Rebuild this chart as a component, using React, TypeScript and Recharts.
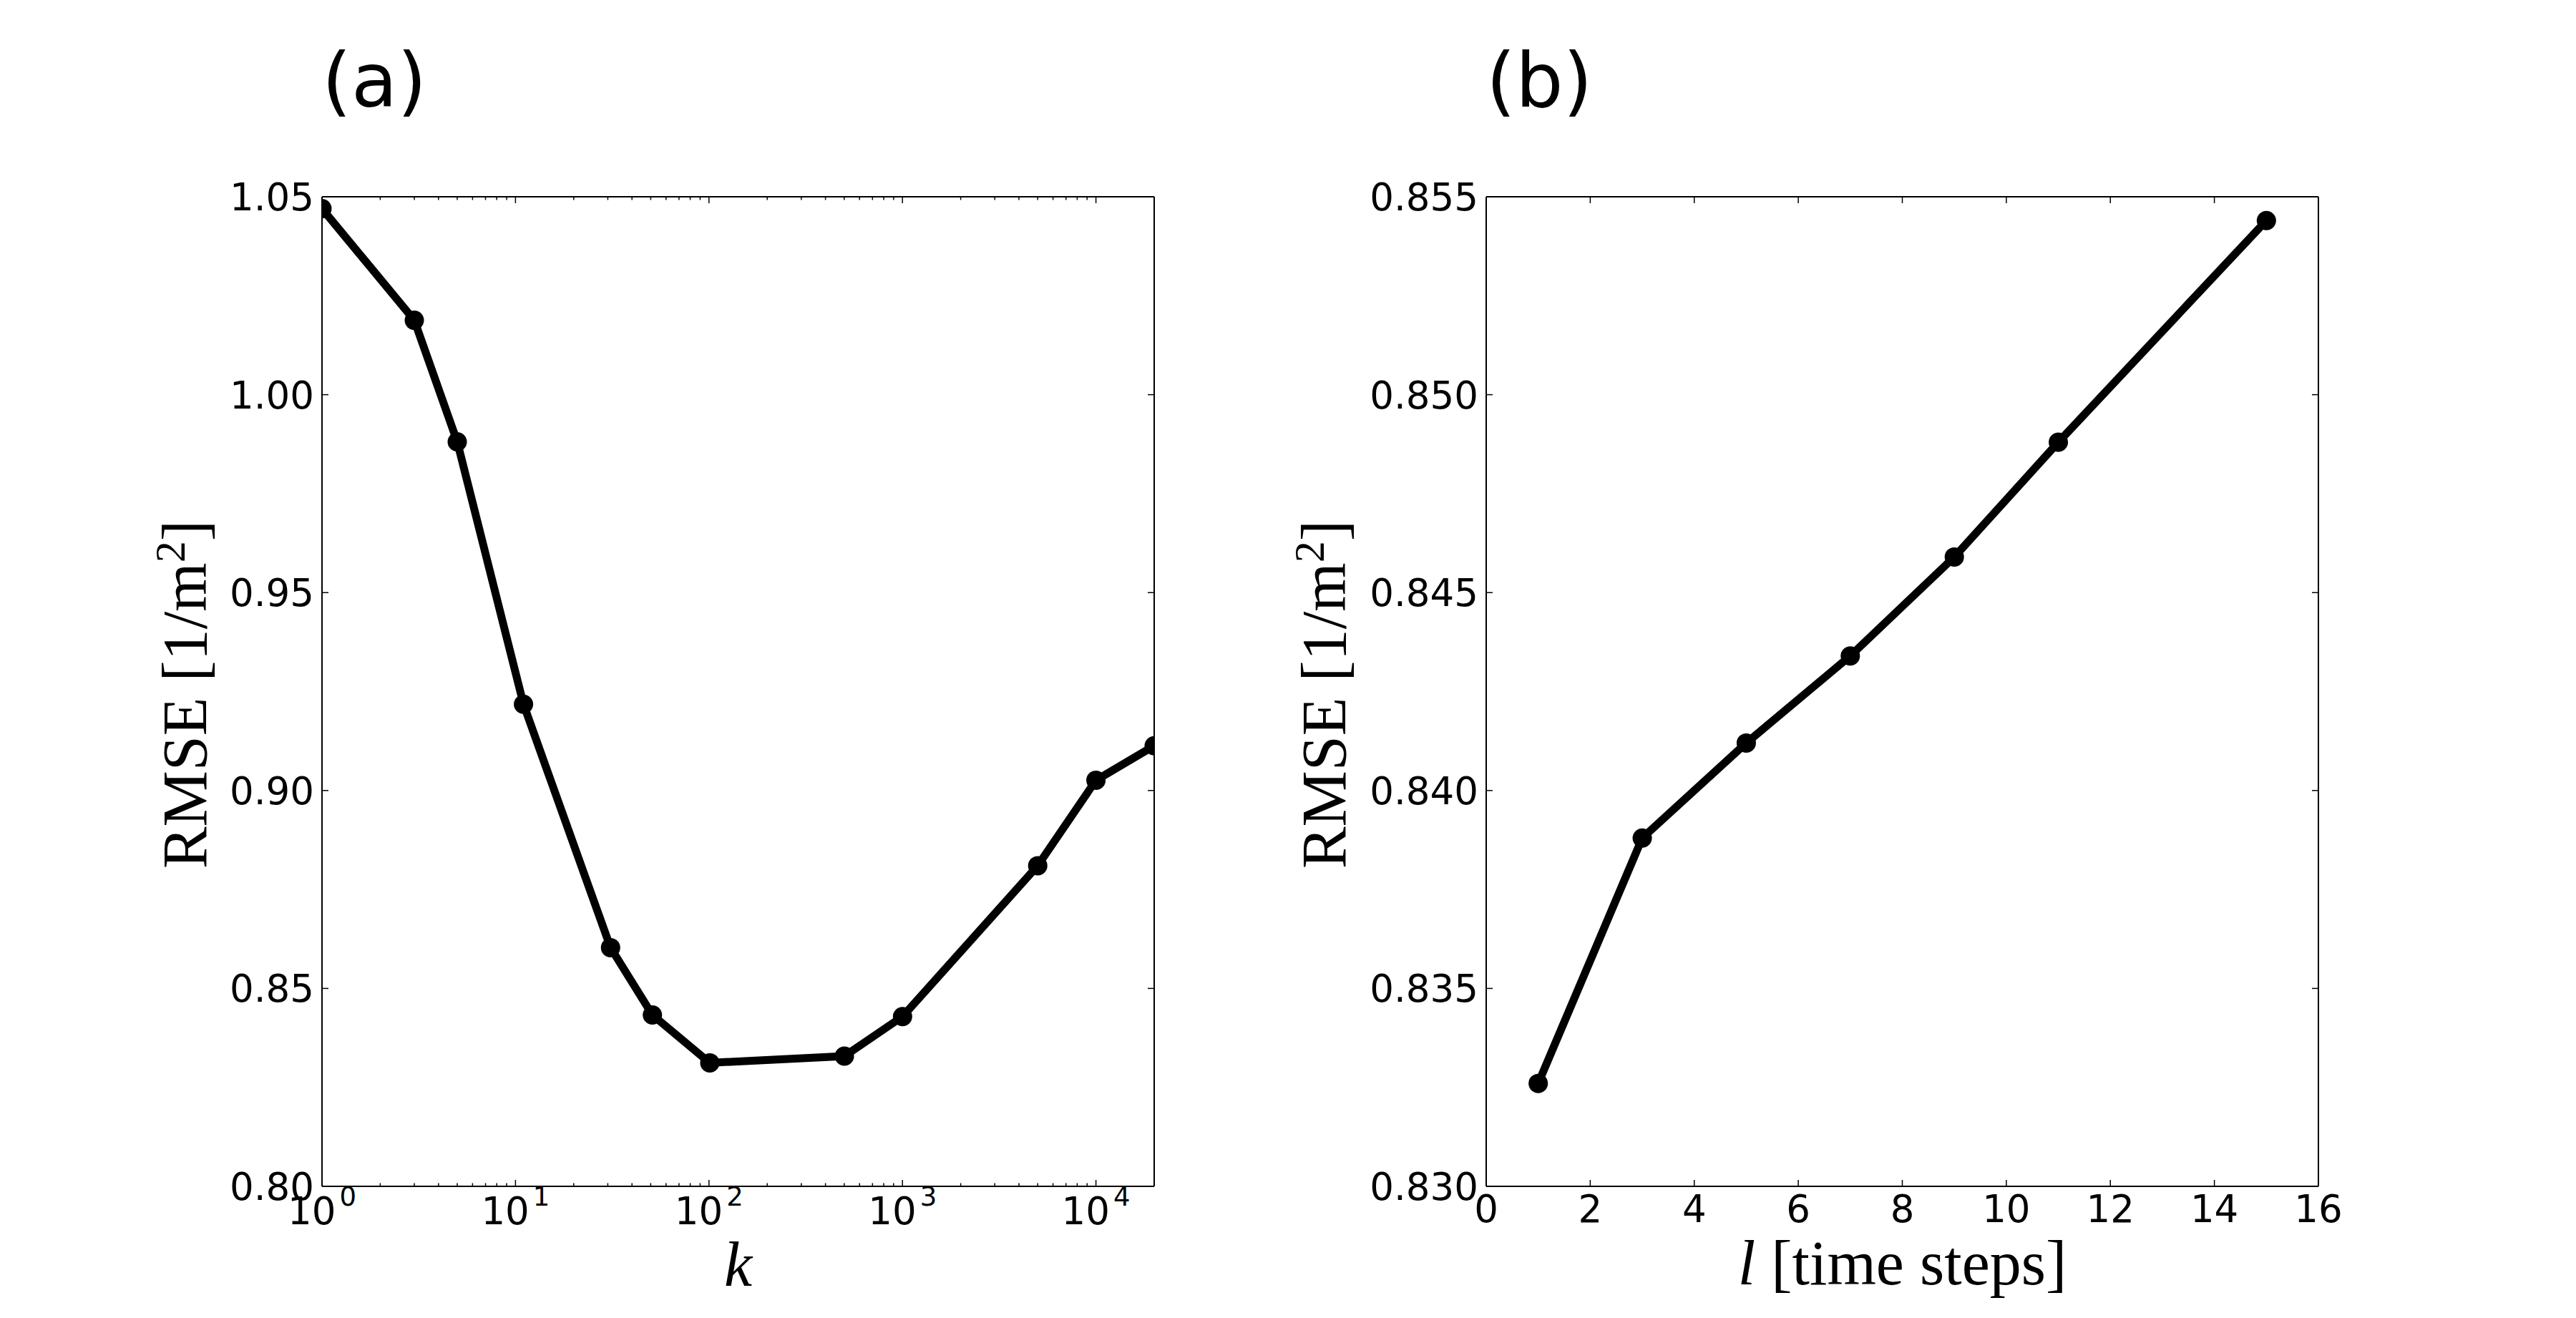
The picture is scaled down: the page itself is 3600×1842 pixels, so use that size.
import React from 'react';
import { Label, Line, LineChart, ReferenceLine, XAxis, YAxis } from 'recharts';

// panel (a): RMSE against k (log axis)
const kValues = [1, 3, 5, 11, 31, 51, 101, 501, 1001, 5001, 10001, 20000];
const rmseByK = [1.047, 1.0188, 0.9881, 0.9218, 0.8603, 0.8433, 0.8312, 0.8329, 0.8429, 0.881, 0.9026, 0.9113];

// panel (b): RMSE against l
const lValues = [1, 3, 5, 7, 9, 11, 15];
const rmseByL = [0.8326, 0.8388, 0.8412, 0.8434, 0.8459, 0.8488, 0.8544];

// tick values
const kDomain = [1, 20000];
const kMajorTicks = [1, 10, 100, 1000, 10000];
const kMinorSteps = [2, 3, 4, 5, 6, 7, 8, 9];
const kRmseTicks = [0.8, 0.85, 0.9, 0.95, 1.0, 1.05];
const lTicks = [0, 2, 4, 6, 8, 10, 12, 14, 16];
const lRmseTicks = [0.83, 0.835, 0.84, 0.845, 0.85, 0.855];

const kTicks = [
  ...kMajorTicks,
  ...kMajorTicks.flatMap((d) => kMinorSteps.map((s) => s * d)).filter((v) => v <= kDomain[1]),
].sort((a, b) => a - b);

const kData = kValues.map((k, i) => ({ k, rmse: rmseByK[i] }));
const lData = lValues.map((l, i) => ({ l, rmse: rmseByL[i] }));

// layout (px)
const CHART_W = 1800;
const CHART_H = 1842;
const PLOT_TOP = 275;
const PLOT_W = 1163;
const PLOT_H = 1383;
const MAJOR_TICK = 9;
const MINOR_TICK = 4.5;
const RIGHT_CHART_LEFT = 1650; // plot (b) starts at x = 2077

const TICK_FONT = '"DejaVu Sans", sans-serif';
const TICK_SIZE = 53;
const LABEL_FONT = '"Liberation Serif", "Times New Roman", serif';
const LABEL_SIZE = 88;

const tickStroke = { stroke: '#000', strokeWidth: 1.5 };

function LogXTick(props: any) {
  const { x, y, payload } = props;
  const v = payload.value as number;
  const exp = Math.log10(v);
  const major = Math.abs(exp - Math.round(exp)) < 1e-9;
  const len = major ? MAJOR_TICK : MINOR_TICK;
  return (
    <g>
      <line x1={x} y1={y} x2={x} y2={y - len} {...tickStroke} />
      <line x1={x} y1={y - PLOT_H} x2={x} y2={y - PLOT_H + len} {...tickStroke} />
      {major && (
        <text x={x} y={y + 53} textAnchor="middle" fontFamily={TICK_FONT} fontSize={TICK_SIZE} fill="#000">
          10
          <tspan dx={5} dy={-26} fontSize={37}>
            {Math.round(exp)}
          </tspan>
        </text>
      )}
    </g>
  );
}

function LinearXTick(props: any) {
  const { x, y, payload } = props;
  return (
    <g>
      <line x1={x} y1={y} x2={x} y2={y - MAJOR_TICK} {...tickStroke} />
      <line x1={x} y1={y - PLOT_H} x2={x} y2={y - PLOT_H + MAJOR_TICK} {...tickStroke} />
      <text x={x} y={y + 50} textAnchor="middle" fontFamily={TICK_FONT} fontSize={TICK_SIZE} fill="#000">
        {payload.value}
      </text>
    </g>
  );
}

function makeYTick(decimals: number) {
  return function YTick(props: any) {
    const { x, y, payload } = props;
    return (
      <g>
        <line x1={x} y1={y} x2={x + MAJOR_TICK} y2={y} {...tickStroke} />
        <line x1={x + PLOT_W} y1={y} x2={x + PLOT_W - MAJOR_TICK} y2={y} {...tickStroke} />
        <text x={x - 11} y={y + 19} textAnchor="end" fontFamily={TICK_FONT} fontSize={TICK_SIZE} fill="#000">
          {(payload.value as number).toFixed(decimals)}
        </text>
      </g>
    );
  };
}

const kYTick = makeYTick(2);
const lYTick = makeYTick(3);

// y label: RMSE [1/m^2], rotated; gap = distance from plot edge to baseline
function makeYLabel(gap: number) {
  return function YLabel(props: any) {
    const vb = props.viewBox || {};
    const bx = vb.x + vb.width - gap;
    const cy = vb.y + vb.height / 2 + 4;
    return (
      <text
        x={bx}
        y={cy}
        transform={`rotate(-90 ${bx} ${cy})`}
        textAnchor="middle"
        fontFamily={LABEL_FONT}
        fontSize={LABEL_SIZE}
        fill="#000"
      >
        RMSE [1/m
        <tspan dy={-30} fontSize={60}>
          2
        </tspan>
        <tspan dy={30}>]</tspan>
      </text>
    );
  };
}

function KLabel(props: any) {
  const vb = props.viewBox || {};
  return (
    <text
      x={vb.x + vb.width / 2}
      y={vb.y + 139}
      textAnchor="middle"
      fontFamily={LABEL_FONT}
      fontSize={LABEL_SIZE}
      fontStyle="italic"
      fill="#000"
    >
      k
    </text>
  );
}

function LLabel(props: any) {
  const vb = props.viewBox || {};
  return (
    <text x={vb.x + vb.width / 2} y={vb.y + 137} textAnchor="middle" fontFamily={LABEL_FONT} fontSize={LABEL_SIZE} fill="#000">
      <tspan fontStyle="italic">l</tspan> [time steps]
    </text>
  );
}

const frame = { stroke: '#000', strokeWidth: 2 };
const dotStyle = { r: 13.5, fill: '#000', stroke: '#000', strokeWidth: 0 };

export default function App() {
  return (
    <div style={{ position: 'absolute', left: 0, top: 0, width: 3600, height: 1842, background: '#fff' }}>
      {/* (a) */}
      <div style={{ position: 'absolute', left: 0, top: 0 }}>
        <LineChart
          width={CHART_W}
          height={CHART_H}
          data={kData}
          margin={{ top: PLOT_TOP, right: CHART_W - 450 - PLOT_W, bottom: 0, left: 0 }}
        >
          <XAxis
            dataKey="k"
            type="number"
            scale="log"
            domain={kDomain}
            allowDataOverflow
            ticks={kTicks}
            interval={0}
            height={CHART_H - PLOT_TOP - PLOT_H}
            tickSize={0}
            tickMargin={0}
            tickLine={false}
            axisLine={frame}
            tick={LogXTick}
          >
            <Label content={KLabel} />
          </XAxis>
          <YAxis
            type="number"
            domain={[0.8, 1.05]}
            allowDataOverflow
            ticks={kRmseTicks}
            interval={0}
            width={450}
            tickSize={0}
            tickMargin={0}
            tickLine={false}
            axisLine={frame}
            tick={kYTick}
          >
            <Label content={makeYLabel(162)} />
          </YAxis>
          <ReferenceLine y={1.05} {...frame} />
          <ReferenceLine x={20000} {...frame} />
          <Line
            type="linear"
            dataKey="rmse"
            stroke="#000"
            strokeWidth={11}
            dot={dotStyle}
            activeDot={false}
            isAnimationActive={false}
          />
        </LineChart>
      </div>

      {/* (b) */}
      <div style={{ position: 'absolute', left: RIGHT_CHART_LEFT, top: 0 }}>
        <LineChart
          width={CHART_W}
          height={CHART_H}
          data={lData}
          margin={{ top: PLOT_TOP, right: CHART_W - (2077 - RIGHT_CHART_LEFT) - PLOT_W, bottom: 0, left: 0 }}
        >
          <XAxis
            dataKey="l"
            type="number"
            domain={[0, 16]}
            allowDataOverflow
            ticks={lTicks}
            interval={0}
            height={CHART_H - PLOT_TOP - PLOT_H}
            tickSize={0}
            tickMargin={0}
            tickLine={false}
            axisLine={frame}
            tick={LinearXTick}
          >
            <Label content={LLabel} />
          </XAxis>
          <YAxis
            type="number"
            domain={[0.83, 0.855]}
            allowDataOverflow
            ticks={lRmseTicks}
            interval={0}
            width={2077 - RIGHT_CHART_LEFT}
            tickSize={0}
            tickMargin={0}
            tickLine={false}
            axisLine={frame}
            tick={lYTick}
          >
            <Label content={makeYLabel(197)} />
          </YAxis>
          <ReferenceLine y={0.855} {...frame} />
          <ReferenceLine x={16} {...frame} />
          <Line
            type="linear"
            dataKey="rmse"
            stroke="#000"
            strokeWidth={11}
            dot={dotStyle}
            activeDot={false}
            isAnimationActive={false}
          />
        </LineChart>
      </div>

      {/* panel tags */}
      <svg width={3600} height={1842} style={{ position: 'absolute', left: 0, top: 0, pointerEvents: 'none' }}>
        <text x={450} y={149} fontFamily={TICK_FONT} fontSize={105} fill="#000">
          (a)
        </text>
        <text x={2077} y={149} fontFamily={TICK_FONT} fontSize={105} fill="#000">
          (b)
        </text>
      </svg>
    </div>
  );
}
